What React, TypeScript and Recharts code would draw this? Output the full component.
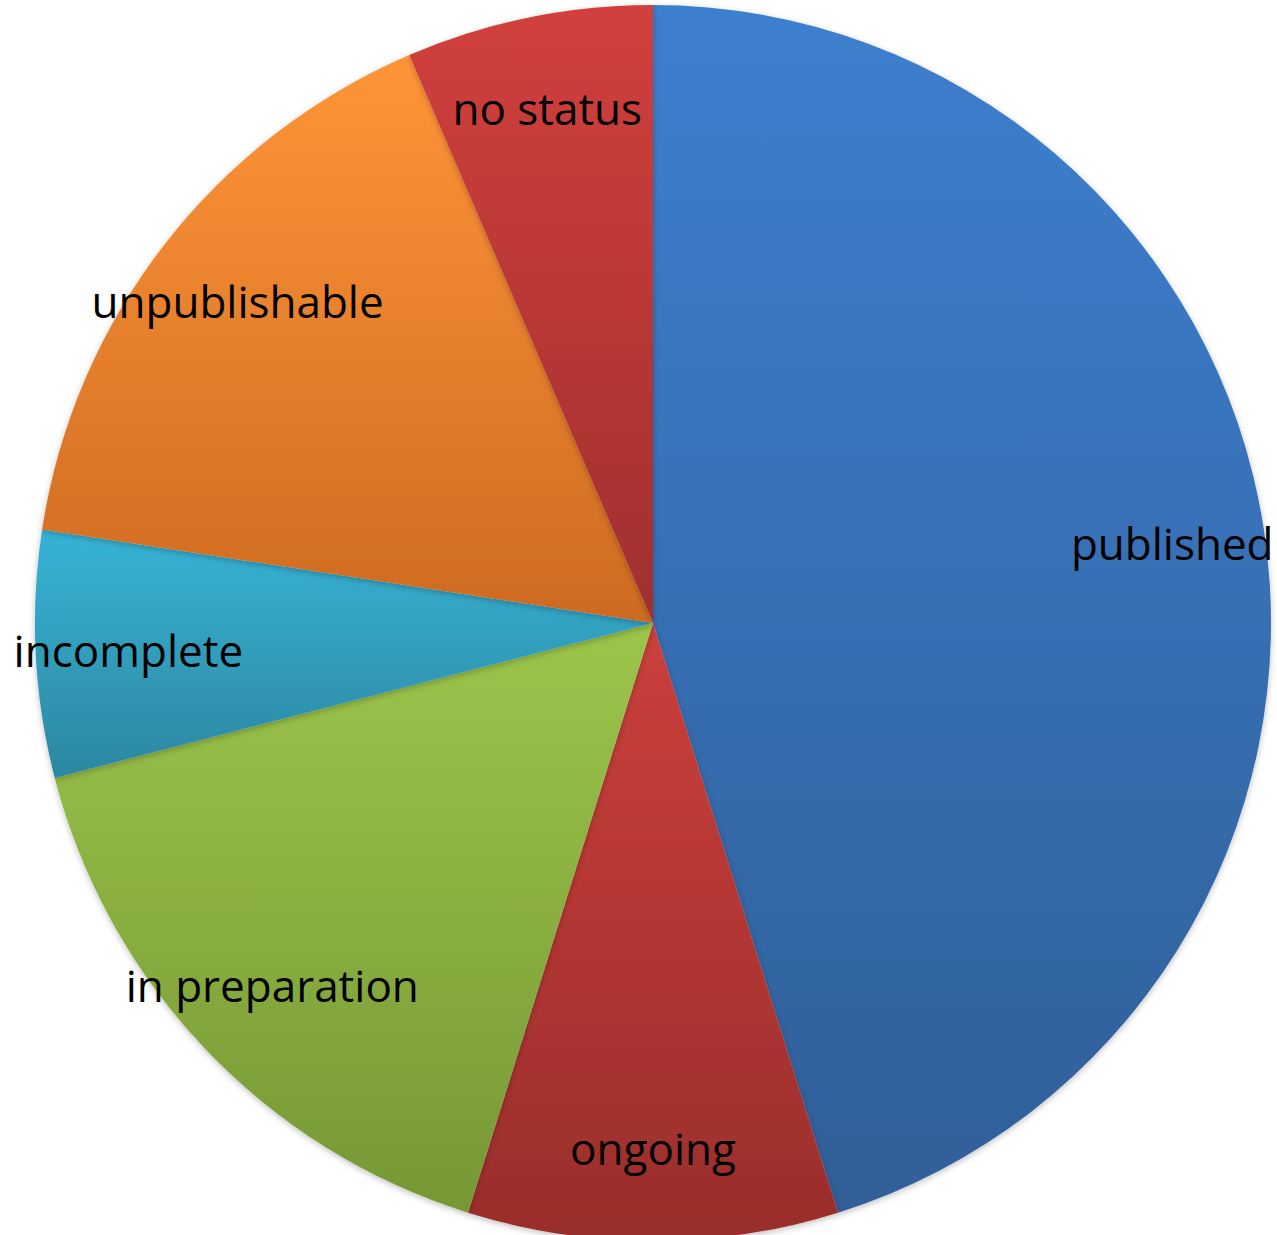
import React from "react";
import { PieChart, Pie, Cell } from "recharts";

// Project status counts
const statuses = ["published", "ongoing", "in preparation", "incomplete", "unpublishable", "no status"];
const counts = [70, 15, 25, 10, 25, 10];

// gradient top / bottom colours for each slice
const topColors = ["#3d7fcf", "#cb403c", "#9cc54b", "#37b3d6", "#ff9538", "#d1403c"];
const bottomColors = ["#305f98", "#992d2b", "#769735", "#2c87a0", "#ce6a21", "#a02f2f"];

const data = statuses.map((name, i) => ({ name, value: counts[i] }));

const RADIAN = Math.PI / 180;

const renderLabel = (props: any) => {
  const { cx, cy, midAngle, outerRadius, name } = props;
  const r = outerRadius * 0.85;
  const x = cx + r * Math.cos(-midAngle * RADIAN);
  const y = cy + r * Math.sin(-midAngle * RADIAN);
  return (
    <text
      x={x}
      y={y}
      textAnchor="middle"
      dominantBaseline="central"
      fill="#000"
      fontSize={44}
      fontFamily="'Open Sans', sans-serif"
    >
      {name}
    </text>
  );
};

export default function App() {
  return (
    <div style={{ position: "absolute", left: 0, top: 0, background: "#fff" }}>
      <PieChart width={1277} height={1235} margin={{ top: 0, right: 0, bottom: 0, left: 0 }}>
        <defs>
          {statuses.map((s, i) => (
            <linearGradient key={s} id={`grad-${i}`} x1="0" y1="0" x2="0" y2="1">
              <stop offset="0%" stopColor={topColors[i]} />
              <stop offset="100%" stopColor={bottomColors[i]} />
            </linearGradient>
          ))}
          <filter id="shadow" x="-5%" y="-5%" width="110%" height="110%">
            <feDropShadow dx="0" dy="2" stdDeviation="3" floodColor="#000" floodOpacity="0.25" />
          </filter>
        </defs>
        <Pie
          data={data}
          dataKey="value"
          nameKey="name"
          cx={653}
          cy={623}
          outerRadius={618}
          startAngle={90}
          endAngle={-270}
          stroke="none"
          label={renderLabel}
          labelLine={false}
          isAnimationActive={false}
          style={{ filter: "url(#shadow)" }}
        >
          {data.map((d, i) => (
            <Cell key={d.name} fill={`url(#grad-${i})`} />
          ))}
        </Pie>
      </PieChart>
    </div>
  );
}
